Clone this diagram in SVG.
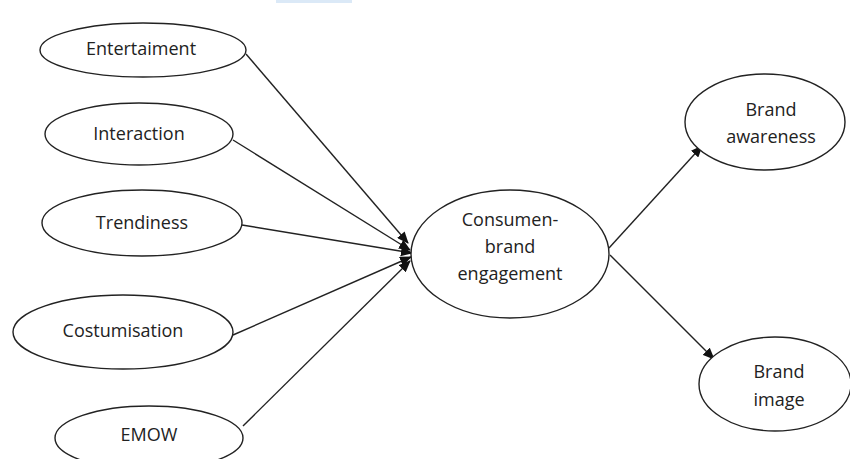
<svg xmlns="http://www.w3.org/2000/svg" width="850" height="459" viewBox="0 0 850 459">
<defs>
<style>
.n{fill:#fff;stroke:#222;stroke-width:1.4}
.t{font-family:"Open Sans","Liberation Sans",sans-serif;font-size:18px;fill:#222;text-anchor:middle;dominant-baseline:central}
.c{stroke:#222;stroke-width:1.4;fill:none;marker-end:url(#ah)}
</style>
<marker id="ah" viewBox="0 0 12 10" refX="11" refY="5" markerWidth="12" markerHeight="10" markerUnits="userSpaceOnUse" orient="auto">
<path d="M0,0 L12,5 L0,10 Z" fill="#111"/>
</marker>
</defs>
<rect x="276" y="0" width="76" height="3" fill="#dbe9f7"/>
<g id="connectors">
<line class="c" x1="246" y1="54" x2="408" y2="243"/>
<line class="c" x1="233" y1="140" x2="410" y2="250"/>
<line class="c" x1="242" y1="225" x2="412" y2="253"/>
<line class="c" x1="233" y1="335" x2="411" y2="257"/>
<line class="c" x1="243" y1="426" x2="410" y2="261"/>
<line class="c" x1="609" y1="248" x2="702" y2="146"/>
<line class="c" x1="610" y1="255" x2="714" y2="359"/>
</g>
<g id="entertaiment"><ellipse class="n" cx="143" cy="50" rx="103" ry="27"/><text class="t" x="141" y="48">Entertaiment</text></g>
<g id="interaction"><ellipse class="n" cx="139" cy="134" rx="94" ry="31"/><text class="t" x="139" y="133">Interaction</text></g>
<g id="trendiness"><ellipse class="n" cx="142" cy="223" rx="100" ry="33"/><text class="t" x="142" y="222">Trendiness</text></g>
<g id="costumisation"><ellipse class="n" cx="123" cy="332" rx="110" ry="37"/><text class="t" x="123" y="330">Costumisation</text></g>
<g id="emow"><ellipse class="n" cx="149" cy="438" rx="94" ry="32"/><text class="t" x="149" y="434">EMOW</text></g>
<g id="engagement"><ellipse class="n" cx="510" cy="254" rx="99" ry="64"/><text class="t" x="510" y="219">Consumen-</text><text class="t" x="510" y="246">brand</text><text class="t" x="510" y="273">engagement</text></g>
<g id="awareness"><ellipse class="n" cx="765" cy="122" rx="80" ry="48"/><text class="t" x="771" y="109">Brand</text><text class="t" x="771" y="136">awareness</text></g>
<g id="image"><ellipse class="n" cx="775" cy="384" rx="76" ry="47"/><text class="t" x="779" y="371">Brand</text><text class="t" x="779" y="399">image</text></g>
</svg>
